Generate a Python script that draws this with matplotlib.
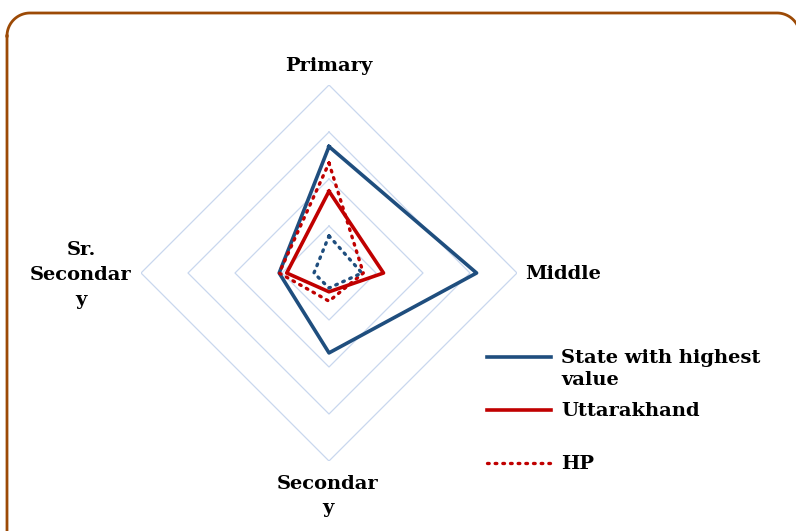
import numpy as np
import matplotlib
matplotlib.use("Agg")
import matplotlib.pyplot as plt
from matplotlib.lines import Line2D

# ---- data ----
categories = ["Primary", "Middle", "Secondary", "Sr. Secondary"]
state_highest = [26.9, 31.4, 17.0, 10.6]
uttarakhand = [17.4, 11.6, 4.0, 9.0]
hp = [23.4, 7.3, 6.0, 10.6]
other = [7.9, 7.0, 3.2, 3.2]
ring_levels = [10, 20, 30, 40]
series_labels = ["State with highest\nvalue", "Uttarakhand", "HP"]

W, H = 796, 531
fig = plt.figure(figsize=(W / 100, H / 100), dpi=100)
fig.patch.set_facecolor("white")

# rounded border drawn in a full-figure pixel axes (y downwards)
bg = fig.add_axes([0, 0, 1, 1])
bg.set_xlim(0, W)
bg.set_ylim(H, 0)
bg.axis("off")
x0, y0, x1, y1, rr = 7, 13, 800, 560, 23
t = np.linspace(0, np.pi / 2, 30)
bx = np.concatenate([x0 + rr - rr * np.cos(t), x1 - rr + rr * np.sin(t),
                     x1 - rr + rr * np.cos(t), x0 + rr - rr * np.sin(t), [x0]])
by = np.concatenate([y0 + rr - rr * np.sin(t), y0 + rr - rr * np.cos(t),
                     y1 - rr + rr * np.sin(t), y1 - rr + rr * np.cos(t), [y0 + rr]])
bg.plot(bx, by, color="#9C4A06", lw=2.0, solid_joinstyle="round")

cx, cy, R = 329, 273, 188
ax = fig.add_axes([(cx - R) / W, (H - cy - R) / H, 2 * R / W, 2 * R / H],
                  projection="polar")
ax.set_theta_zero_location("N")
ax.set_theta_direction(-1)
ax.set_ylim(0, ring_levels[-1])
ax.grid(False)
ax.set_xticks([])
ax.set_yticks([])
ax.spines["polar"].set_visible(False)
ax.patch.set_alpha(0)

n = len(categories)
theta = np.arange(n) * 2 * np.pi / n
theta_c = np.append(theta, theta[0])

for lv in ring_levels:
    ax.plot(theta_c, [lv] * (n + 1), color="#C9D7EE", lw=0.9, zorder=1)


def closed(v):
    return list(v) + [v[0]]


styles = [
    dict(color="#1F4E7E", lw=2.6, ls="-"),
    dict(color="#C00000", lw=2.6, ls="-"),
    dict(color="#C00000", lw=2.4, ls=(0, (0.5, 1.8)), dash_capstyle="round"),
]
ax.plot(theta_c, closed(state_highest), zorder=3, **styles[0])
ax.plot(theta_c, closed(uttarakhand), zorder=3, **styles[1])
ax.plot(theta_c, closed(hp), zorder=3, **styles[2])
ax.plot(theta_c, closed(other), color="#1F4E7E", lw=2.4, ls=(0, (0.5, 1.8)),
        dash_capstyle="round", zorder=3)

fkw = dict(family="DejaVu Serif", fontweight="bold", fontsize=14, color="black")

def ftext(x, y, s, **kw):
    fig.text(x / W, 1 - y / H, s, **fkw, **kw)

ftext(329, 66, "Primary", ha="center", va="center")
ftext(525, 274, "Middle", ha="left", va="center")
ftext(81, 275, "Sr.\nSecondar\ny", ha="center", va="center", linespacing=1.5)
ftext(328, 496, "Secondar\ny", ha="center", va="center", linespacing=1.45)

# legend
leg_y = [357, 410, 463]
for s, lab, y in zip(styles, series_labels, leg_y):
    fig.add_artist(Line2D([487 / W, 551 / W], [1 - y / H, 1 - y / H],
                          transform=fig.transFigure, **s))
    ftext(561, y - 8, lab, ha="left", va="top", linespacing=1.3)

fig.savefig("out.png", dpi=100)
